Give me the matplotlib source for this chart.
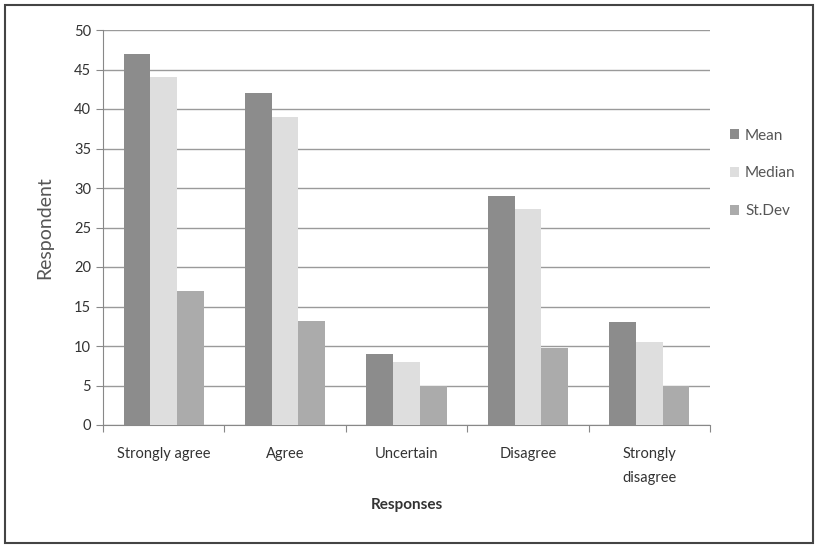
import numpy as np
import matplotlib.pyplot as plt
from matplotlib.patches import Rectangle

# Survey responses summarised per answer category
categories = ["Strongly agree", "Agree", "Uncertain", "Disagree", "Strongly\ndisagree"]
mean_vals = [47, 42, 9, 29, 13]
median_vals = [44, 39, 8, 27.3, 10.5]
stdev_vals = [17, 13.2, 5, 9.7, 5]
series_names = ["Mean", "Median", "St.Dev"]
colors = ["#8c8c8c", "#dedede", "#ababab"]

plt.rcParams['font.family'] = ['Lato', 'DejaVu Sans']

fig = plt.figure(figsize=(8.15, 5.46), dpi=100)
ax = fig.add_axes([103 / 815, 1 - 425 / 546, (710 - 103) / 815, (425 - 30) / 546])

x = np.arange(len(categories))
w = 0.22
for i, (vals, name, c) in enumerate(zip([mean_vals, median_vals, stdev_vals], series_names, colors)):
    ax.bar(x + (i - 1) * w, vals, width=w, color=c, label=name, zorder=3)

ax.set_xlim(-0.5, len(categories) - 0.5)
ax.set_ylim(0, 50)
ax.set_yticks(range(0, 51, 5))
ax.yaxis.grid(True, color="#9a9a9a", linewidth=1, zorder=0)

# category boundaries as tick marks, labels centred under each group
ax.set_xticks(np.arange(-0.5, len(categories), 1))
ax.set_xticklabels([])
ax.set_xticks(x, minor=True)
ax.set_xticklabels(categories, minor=True, fontsize=10.5, color="#333333", linespacing=1.9)
ax.tick_params(axis='x', which='minor', length=0, pad=16)
ax.tick_params(axis='x', which='major', length=5, color="#888888", direction='out')
ax.tick_params(axis='y', length=5, color="#888888", labelsize=10.5, labelcolor="#333333")

for side in ["top", "right"]:
    ax.spines[side].set_visible(False)
for side in ["left", "bottom"]:
    ax.spines[side].set_color("#888888")

ax.set_ylabel("Respondent", fontsize=14, color="#555555", labelpad=15)
ax.set_xlabel("Responses", fontsize=11, fontweight="bold", color="#333333", labelpad=9)

ax.legend(loc="upper left", bbox_to_anchor=(1.01, 0.785), frameon=False,
          fontsize=11, labelcolor="#555555", handlelength=0.6, handleheight=0.6,
          labelspacing=1.55, handletextpad=0.4)

# outer frame around the chart
fig.patches.append(Rectangle((0.006, 0.005), 0.992, 0.985, transform=fig.transFigure,
                             fill=False, edgecolor="#444444", linewidth=1.5))

fig.savefig("out.png", dpi=100)
